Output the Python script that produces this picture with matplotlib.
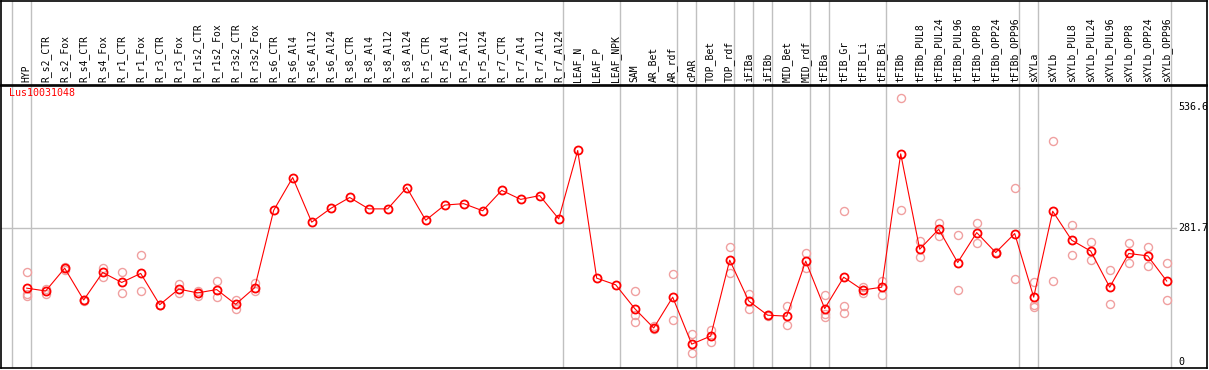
import numpy as np
import matplotlib
matplotlib.use("Agg")
import matplotlib.pyplot as plt

# sample names (columns)
samples = ["HYP", "R_s2_CTR", "R_s2_Fox", "R_s4_CTR", "R_s4_Fox", "R_r1_CTR", "R_r1_Fox",
           "R_r3_CTR", "R_r3_Fox", "R_r1s2_CTR", "R_r1s2_Fox", "R_r3s2_CTR", "R_r3s2_Fox",
           "R_s6_CTR", "R_s6_Al4", "R_s6_Al12", "R_s6_Al24", "R_s8_CTR", "R_s8_Al4",
           "R_s8_Al12", "R_s8_Al24", "R_r5_CTR", "R_r5_Al4", "R_r5_Al12", "R_r5_Al24",
           "R_r7_CTR", "R_r7_Al4", "R_r7_Al12", "R_r7_Al24", "LEAF_N", "LEAF_P", "LEAF_NPK",
           "SAM", "AR_Bet", "AR_rdf", "cPAR", "TOP_Bet", "TOP_rdf", "iFIBa", "iFIBb",
           "MID_Bet", "MID_rdf", "tFIBa", "tFIB_Gr", "tFIB_Li", "tFIB_Bi", "tFIBb",
           "tFIBb_PUL8", "tFIBb_PUL24", "tFIBb_PUL96", "tFIBb_OPP8", "tFIBb_OPP24",
           "tFIBb_OPP96", "sXYLa", "sXYLb", "sXYLb_PUL8", "sXYLb_PUL24", "sXYLb_PUL96",
           "sXYLb_OPP8", "sXYLb_OPP24", "sXYLb_OPP96"]

# mean expression per sample
means = [155, 149, 197, 130, 188, 167, 186, 120, 153, 145, 152, 121, 156,
         319, 388, 294, 323, 346, 322, 322, 367, 298, 330, 333, 318, 361, 342, 350, 301,
         445, 176, 162, 112, 71, 136, 37, 54, 214, 128, 98, 96, 212, 112, 178, 151, 157,
         438, 237, 279, 209, 272, 230, 270, 136, 317, 256, 233, 157, 228, 223, 170]

# replicate values (index, value)
rep_idx = [0, 0, 0, 1, 1, 2, 2, 3, 3, 4, 4, 5, 5, 6, 6, 7, 7, 8, 8, 9, 9, 10, 10,
           11, 11, 12, 12,
           32, 32, 32, 33, 33, 34, 34, 35, 35, 36, 36, 37, 37, 38, 38, 39, 39,
           40, 40, 41, 41, 42, 42, 42, 43, 43, 43, 44, 44, 45, 45, 46, 46,
           47, 47, 48, 48, 49, 49, 50, 50, 51, 51, 52, 52, 53, 53, 53, 54, 54,
           55, 55, 56, 56, 57, 57, 58, 58, 59, 59, 60, 60]
rep_val = [188, 143, 138, 153, 143, 200, 193, 131, 127, 198, 178, 188, 144, 224, 150,
           120, 119, 163, 144, 148, 138, 170, 136, 130, 110, 166, 148,
           150, 98, 84, 76, 68, 184, 87, 58, 18, 67, 42, 241, 186, 143, 110, 98, 97,
           117, 77, 228, 197, 140, 100, 95, 317, 117, 102, 157, 144, 169, 141, 555, 320,
           254, 221, 292, 265, 268, 152, 292, 251, 231, 230, 367, 174, 167, 120, 116,
           465, 171, 289, 224, 253, 214, 193, 121, 250, 207, 242, 202, 207, 131]

# group separators (right of these sample indices)
seps = [-1, 0, 28, 31, 34, 35, 37, 38, 39, 41, 42, 45, 52, 53, 60]
ref_line = 281.7
ymax_lab = 536.6

W, H = 1209, 370
fig = plt.figure(figsize=(W / 100, H / 100), dpi=100)
mono = "DejaVu Sans Mono"
grid_c = "#c0c0c0"
red = "#ff0000"
pink = "#f0a0a0"

xl = ((1 - 26.7) / 19, (1207 - 26.7) / 19)
k = 2.107
yl = ((361.7 - 368) * k, (361.7 - 86) * k)

ax = fig.add_axes([1 / W, 2 / H, 1206 / W, 282 / H])
top = fig.add_axes([1 / W, 285 / H, 1206 / W, 84 / H])
for a in (ax, top):
    a.set_xlim(*xl)
    a.set_xticks([])
    a.set_yticks([])
    for s in a.spines.values():
        s.set_color("black")
        s.set_linewidth(1.2)
    for sx in seps:
        a.axvline(sx + 0.2, color=grid_c, lw=1.0, zorder=0)
top.set_ylim(0, 1)
ax.set_ylim(*yl)

x = np.arange(len(samples))
ax.plot([-1.35, 60.5], [ref_line, ref_line], color=grid_c, lw=1.0, zorder=0)
ax.plot(rep_idx, rep_val, ls="none", marker="o", ms=5.8, mfc="none",
        mec=pink, mew=1.0, zorder=2)
ax.plot(x, means, color=red, lw=0.8, marker="o", ms=5.8, mfc="none",
        mec=red, mew=1.3, zorder=3)

for i, name in enumerate(samples):
    top.text(i, 0.03, name, rotation=90, ha="center", va="bottom",
             fontsize=7, family=mono)

ax.text(0.007, 0.975, "Lus10031048", transform=ax.transAxes, color=red,
        fontsize=7.2, family=mono, ha="left", va="center")
xt = (1178 - 26.7) / 19
for v, s in [(ymax_lab, "536.6"), (ref_line, "281.7"), (0, "0")]:
    ax.text(xt, v, s, fontsize=7.2, family=mono, ha="left", va="center")

fig.savefig("out.png", dpi=100)
